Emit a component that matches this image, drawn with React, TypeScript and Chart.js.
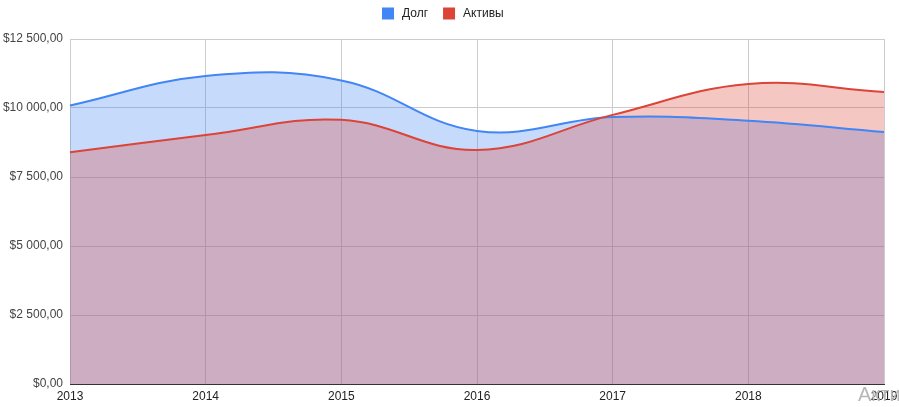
import React, { useEffect, useRef } from "react";
import { Chart, registerables } from "chart.js";

Chart.register(...registerables);

const years = ["2013", "2014", "2015", "2016", "2017", "2018", "2019"];
const debt = [10090, 11160, 11000, 9170, 9670, 9540, 9130];
const assets = [8400, 9020, 9570, 8480, 9750, 10870, 10580];
const seriesNames = ["Долг", "Активы"];
const yTicks = [0, 2500, 5000, 7500, 10000, 12500];

const BLUE = "#4285F4";
const RED = "#DB4437";
const FONT = '"Liberation Sans", Arial, sans-serif';
const TENSION = 0.4;

function fmt(v: number): string {
  const s = Math.round(v).toString().replace(/\B(?=(\d{3})+(?!\d))/g, " ");
  return "$" + s + ",00";
}

const overlayPlugin = {
  id: "overlay",
  afterDraw(chart: any) {
    const ctx = chart.ctx;
    ctx.save();
    ctx.font = "12px " + FONT;
    ctx.textBaseline = "middle";
    const items = [
      { label: seriesNames[0], color: BLUE },
      { label: seriesNames[1], color: RED },
    ];
    let x = 382;
    const cy = 13.5;
    items.forEach((it) => {
      ctx.fillStyle = it.color;
      ctx.fillRect(x, cy - 6, 12, 12);
      x += 12 + 8;
      ctx.fillStyle = "#222";
      ctx.textAlign = "left";
      ctx.fillText(it.label, x, cy + 0.5);
      x += ctx.measureText(it.label).width + 15;
    });
    ctx.font = "20px " + FONT;
    ctx.fillStyle = "#b8b8b8";
    ctx.textBaseline = "alphabetic";
    ctx.fillText(seriesNames[1], 858, 401);
    ctx.restore();
  },
};

function area(label: string, data: number[], color: string, order: number) {
  return {
    label,
    data,
    borderColor: "rgba(0,0,0,0)",
    backgroundColor: color,
    borderWidth: 0,
    fill: "origin",
    pointRadius: 0,
    tension: TENSION,
    order,
  };
}

function line(label: string, data: number[], color: string, order: number) {
  return {
    label,
    data,
    borderColor: color,
    borderWidth: 2,
    fill: false,
    pointRadius: 0,
    tension: TENSION,
    order,
  };
}

export default function App() {
  const ref = useRef<HTMLCanvasElement | null>(null);
  useEffect(() => {
    if (!ref.current) return;
    const chart = new Chart(ref.current, {
      type: "line",
      data: {
        labels: years,
        datasets: [
          area(seriesNames[0], debt, "rgba(66,133,244,0.3)", 3),
          area(seriesNames[1], assets, "rgba(219,68,55,0.3)", 2),
          line(seriesNames[0], debt, BLUE, 1),
          line(seriesNames[1], assets, RED, 0),
        ],
      },
      options: {
        responsive: false,
        animation: false,
        layout: { padding: { top: 39, right: 15, bottom: 0, left: 0 } },
        plugins: {
          legend: { display: false },
          tooltip: { enabled: false },
        },
        scales: {
          x: {
            type: "category",
            offset: false,
            afterFit: (s: any) => {
              s.height = 23;
              s.paddingLeft = 0;
              s.paddingRight = 0;
            },
            grid: { color: "#cccccc", drawTicks: false, lineWidth: 1 },
            border: { display: true, color: "#333333", width: 1 },
            ticks: {
              color: "#222",
              font: { family: FONT, size: 12 },
              padding: 5,
              maxRotation: 0,
              autoSkip: false,
            },
          },
          y: {
            min: 0,
            max: 12500,
            afterFit: (s: any) => {
              s.width = 70;
              s.paddingTop = 0;
              s.paddingBottom = 0;
            },
            afterBuildTicks: (s: any) => {
              s.ticks = yTicks.map((v) => ({ value: v }));
            },
            grid: {
              color: (c: any) => (c.tick && c.tick.value === 0 ? "#333333" : "#cccccc"),
              drawTicks: false,
              lineWidth: 1,
            },
            border: { display: false },
            ticks: {
              color: "#444",
              font: { family: FONT, size: 12 },
              padding: 7,
              callback: (v: any) => fmt(Number(v)),
            },
          },
        },
      },
      plugins: [overlayPlugin],
    });
    return () => chart.destroy();
  }, []);
  return (
    <div style={{ position: "absolute", left: 0, top: 0, width: 899, height: 407, background: "#fff" }}>
      <canvas ref={ref} width={899} height={407} style={{ display: "block" }} />
    </div>
  );
}
